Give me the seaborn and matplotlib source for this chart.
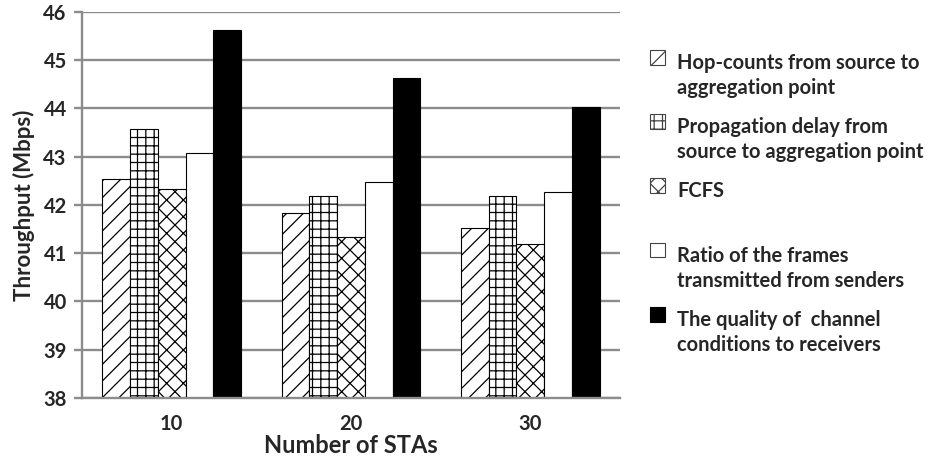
import pandas as pd
import numpy as np
import matplotlib.pyplot as plt
import seaborn as sns
from matplotlib.patches import Patch, Rectangle
from matplotlib.legend_handler import HandlerPatch

# Data
stas = ['10', '20', '30']
schemes = ['Hop-counts from source to\naggregation point',
           'Propagation delay from\nsource to aggregation point',
           'FCFS',
           'Ratio of the frames\ntransmitted from senders',
           'The quality of  channel\nconditions to receivers']
hop_counts = [42.54, 41.83, 41.53]
prop_delay = [43.57, 42.19, 42.19]
fcfs = [42.33, 41.34, 41.19]
frame_ratio = [43.07, 42.48, 42.26]
channel_quality = [45.62, 44.63, 44.02]

series = [hop_counts, prop_delay, fcfs, frame_ratio, channel_quality]
rows = []
for name, vals in zip(schemes, series):
    for s, v in zip(stas, vals):
        rows.append({'STAs': s, 'scheme': name, 'throughput': v})
df = pd.DataFrame(rows)

sns.set_style('white')
plt.rcParams['font.family'] = ['Lato', 'DejaVu Sans']
plt.rcParams['hatch.linewidth'] = 0.9

fig = plt.figure(figsize=(9.35, 4.67), dpi=100)
ax = fig.add_axes([0.0877, 0.1478, 0.5754, 0.8272])

sns.barplot(data=df, x='STAs', y='throughput', hue='scheme', order=stas,
            hue_order=schemes, width=0.775, ax=ax, legend=False,
            palette=['white'] * 5)

# Styles per series
faces = ['white', 'white', 'white', 'white', 'black']
hatches = ['//', '++', 'xx', '', '']
for cont, fc, h in zip(ax.containers, faces, hatches):
    for bar in cont:
        bar.set_facecolor(fc)
        bar.set_edgecolor('black')
        bar.set_linewidth(0.8)
        bar.set_hatch(h)

ax.set_ylim(38, 46)
ax.set_yticks(np.arange(38, 47, 1))
ax.yaxis.grid(True, color='#8c8c8c', linewidth=1.7)
ax.set_axisbelow(True)
for side in ['top', 'right']:
    ax.spines[side].set_visible(False)
for side in ['left', 'bottom']:
    ax.spines[side].set_color('#8c8c8c')
    ax.spines[side].set_linewidth(1.7)
ax.tick_params(axis='y', which='both', left=True, length=6, width=1.7,
               color='#8c8c8c', labelsize=14.5, pad=5)
ax.tick_params(axis='x', bottom=False, labelsize=14.5, pad=8)
for lab in ax.get_xticklabels() + ax.get_yticklabels():
    lab.set_fontweight('bold')

ax.set_xlabel('Number of STAs', fontsize=17, fontweight='bold', labelpad=0)
ax.set_ylabel('Throughput (Mbps)', fontsize=16, fontweight='bold', labelpad=6)

# legend: every entry gets a two-line slot, handle next to the first line
leg_size = 14.5
line_sp = 1.32


class TopHandler(HandlerPatch):
    def __init__(self, shift):
        super().__init__()
        self.shift = shift

    def create_artists(self, legend, orig_handle, xdescent, ydescent, width,
                       height, fontsize, trans):
        p = Rectangle((-xdescent, -ydescent + self.shift), width, height)
        self.update_prop(p, orig_handle, legend)
        p.set_transform(trans)
        return [p]


handles = [Patch(facecolor=fc, edgecolor='black' if fc == 'black' else '#444444',
                 hatch=h, linewidth=0.8)
           for fc, h in zip(faces, hatches)]
labels = [lab if '\n' in lab else lab + '\n' for lab in schemes]
shift2 = 0.72 * line_sp * leg_size
hmap = {hd: TopHandler(shift2) for hd in handles}
leg = fig.legend(handles, labels, loc='upper left', bbox_to_anchor=(0.695, 0.887),
                 frameon=False, prop={'size': leg_size, 'weight': 'bold'},
                 handlelength=0.75, handleheight=0.75, handletextpad=0.6,
                 labelspacing=0.95, borderpad=0, borderaxespad=0,
                 handler_map=hmap)
for t in leg.get_texts():
    t.set_linespacing(line_sp)

plt.savefig('out.png', dpi=100)
